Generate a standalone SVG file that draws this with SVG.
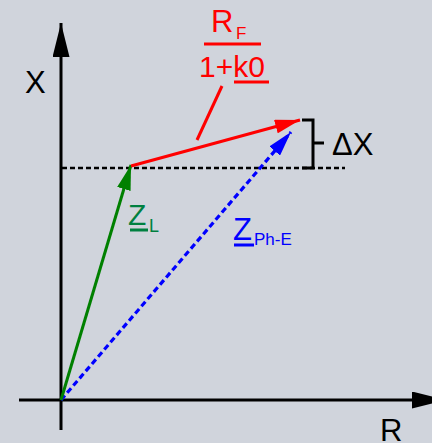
<svg xmlns="http://www.w3.org/2000/svg" width="432" height="443" viewBox="0 0 432 443">
<style>
text{font-family:"Liberation Sans",Arial,sans-serif}
.ax{stroke:#000;stroke-width:3;fill:none}
.red{fill:#ff0000}
.blue{fill:#0000ff}
.grn{fill:#008040}
</style>
<defs>
<marker id="ahK" viewBox="0 0 34 17" refX="34" refY="8.5" markerWidth="34" markerHeight="17" markerUnits="userSpaceOnUse" orient="auto"><path d="M0,0 L34,8.5 L0,17 z" fill="#000"/></marker>
<marker id="ahG" viewBox="0 0 25 14" refX="25" refY="7" markerWidth="25" markerHeight="14" markerUnits="userSpaceOnUse" orient="auto"><path d="M0,0 L25,7 L0,14 z" fill="#008000"/></marker>
<marker id="ahR" viewBox="0 0 25 14" refX="25" refY="7" markerWidth="25" markerHeight="14" markerUnits="userSpaceOnUse" orient="auto"><path d="M0,0 L25,7 L0,14 z" fill="#ff0000"/></marker>
<marker id="ahB" viewBox="0 0 25 14" refX="25" refY="7" markerWidth="25" markerHeight="14" markerUnits="userSpaceOnUse" orient="auto"><path d="M0,0 L25,7 L0,14 z" fill="#0000ff"/></marker>
</defs>
<rect width="432" height="443" fill="#d0d4dc"/>
<g id="axes">
<line class="ax" x1="61" y1="430" x2="61" y2="23" marker-end="url(#ahK)"/>
<line class="ax" x1="19" y1="400" x2="446" y2="400" marker-end="url(#ahK)"/>
<text x="25" y="93" font-size="31">X</text>
<text x="380" y="441" font-size="31">R</text>
</g>
<g id="connectors">
<line x1="62" y1="168" x2="345" y2="168" stroke="#000" stroke-width="2.5" stroke-dasharray="5,3"/>
<line x1="61" y1="400" x2="291" y2="132" stroke="#0000ff" stroke-width="3.2" stroke-dasharray="6,3.5" marker-end="url(#ahB)"/>
<line x1="61" y1="400" x2="131" y2="165" stroke="#008000" stroke-width="3" marker-end="url(#ahG)"/>
<line x1="131" y1="166" x2="300" y2="120" stroke="#ff0000" stroke-width="3" marker-end="url(#ahR)"/>
<line x1="222" y1="86" x2="197" y2="140" stroke="#ff0000" stroke-width="3"/>
</g>
<g id="deltaX">
<path d="M302,120 H313 V168 H302 M313,143 H324" stroke="#000" stroke-width="3" fill="none"/>
<text x="332" y="155" font-size="31">ΔX</text>
</g>
<g id="fraction">
<text x="211" y="32" font-size="31" class="red">R</text>
<text x="236" y="39" font-size="17" class="red">F</text>
<rect x="204" y="42.5" width="57" height="3" class="red"/>
<text x="199" y="77" font-size="30" class="red">1+k0</text>
<rect x="234" y="80.5" width="35" height="3" class="red"/>
</g>
<g id="ZL">
<text x="128" y="225" font-size="30" class="grn">Z</text>
<rect x="130" y="228.5" width="18" height="3" class="grn"/>
<text x="149" y="232" font-size="18" class="grn">L</text>
</g>
<g id="ZPhE">
<text x="233" y="240" font-size="31" class="blue">Z</text>
<rect x="234" y="243.5" width="20" height="3" class="blue"/>
<text x="254" y="245" font-size="17" class="blue">Ph-E</text>
</g>
</svg>
